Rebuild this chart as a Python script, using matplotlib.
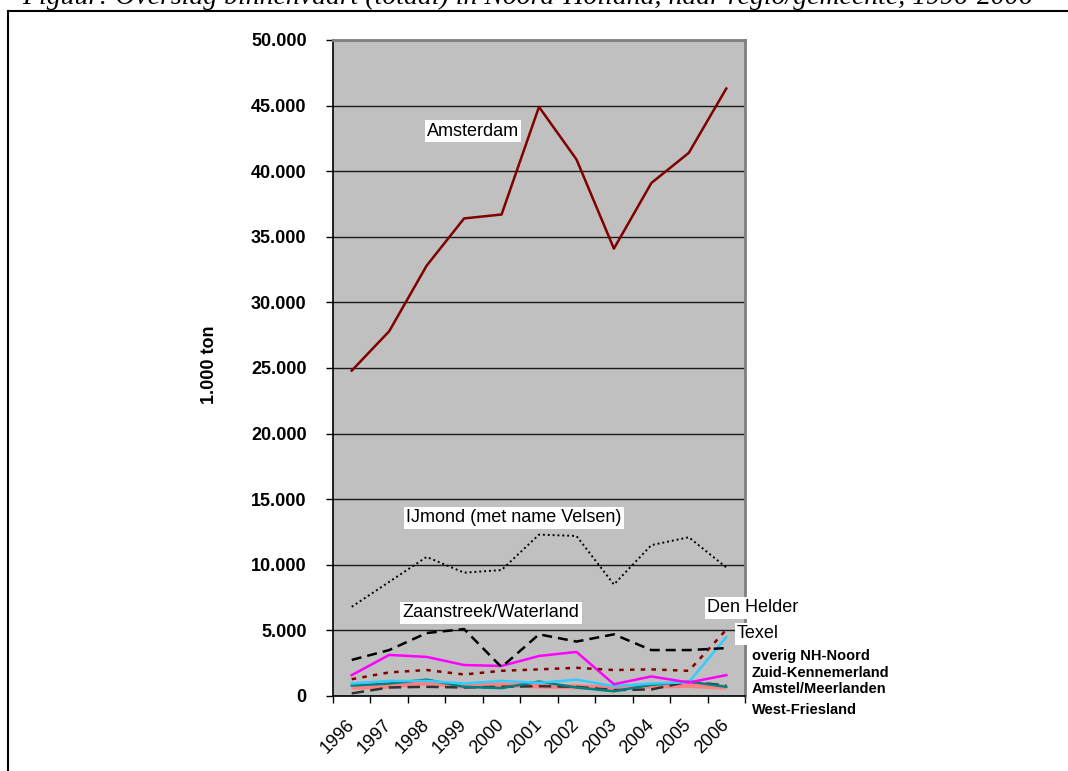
import matplotlib
matplotlib.use("Agg")
import matplotlib.pyplot as plt
from matplotlib.lines import Line2D
from matplotlib.ticker import FuncFormatter, FixedLocator

plt.rcParams["font.family"] = ["Liberation Sans", "DejaVu Sans"]

YEARS = ["1996", "1997", "1998", "1999", "2000", "2001", "2002", "2003", "2004", "2005", "2006"]

AMSTERDAM = [24800, 27800, 32800, 36400, 36700, 44900, 40900, 34100, 39100, 41400, 46300]
IJMOND = [6800, 8700, 10600, 9400, 9600, 12300, 12200, 8500, 11500, 12100, 9800]
ZAANSTREEK = [2750, 3500, 4800, 5100, 2200, 4700, 4150, 4700, 3500, 3500, 3650]
DEN_HELDER = [1280, 1800, 1980, 1640, 1920, 2030, 2150, 1980, 2030, 1920, 5050]
TEXEL = [950, 1150, 1150, 950, 1150, 1000, 1250, 750, 950, 1050, 4490]
OVERIG_NH_NOORD = [1590, 3130, 2980, 2360, 2290, 3050, 3360, 900, 1490, 1030, 1590]
ZUID_KENNEMERLAND = [800, 950, 1250, 700, 600, 1100, 650, 360, 850, 1100, 700]
AMSTEL_MEERLANDEN = [650, 750, 1000, 750, 850, 750, 700, 650, 750, 800, 650]
WEST_FRIESLAND = [200, 650, 700, 650, 700, 750, 700, 450, 500, 1100, 800]

TITLE = "Figuur: Overslag binnenvaart (totaal) in Noord-Holland, naar regio/gemeente, 1996-2006"


def thousands(v, pos):
    return f"{int(round(v)):,}".replace(",", ".")


def main():
    fig = plt.figure(figsize=(10.68, 7.71), dpi=100)
    ax = fig.add_axes([333 / 1068, 75 / 771, 412 / 1068, 656 / 771])
    ax.set_facecolor("#C0C0C0")

    x = list(range(len(YEARS)))

    # small regions first so they sit underneath
    ax.plot(x, AMSTEL_MEERLANDEN, color="#FF8080", lw=3.5, solid_capstyle="butt", zorder=3)
    ax.plot(x, WEST_FRIESLAND, color="#333333", lw=1.8, linestyle=(0, (5, 2.5)), zorder=3)
    ax.plot(x, ZUID_KENNEMERLAND, color="#008080", lw=1.8, zorder=4)
    ax.plot(x, TEXEL, color="#33CCFF", lw=1.8, zorder=5)
    ax.plot(x, OVERIG_NH_NOORD, color="#FF00FF", lw=1.8, zorder=5)
    ax.plot(x, DEN_HELDER, color="#800000", lw=1.8, linestyle=(0, (1.8, 2.5)), zorder=5)
    ax.plot(x, ZAANSTREEK, color="black", lw=1.8, linestyle=(0, (4, 2.4)), zorder=5)
    ax.plot(x, IJMOND, color="black", lw=1.4, linestyle=(0, (1, 1.5)), zorder=5)
    ax.plot(x, AMSTERDAM, color="#800000", lw=1.8, zorder=6)

    ax.set_xlim(-0.5, len(YEARS) - 0.5)
    ax.set_ylim(0, 50000)

    ax.yaxis.set_major_locator(FixedLocator(range(0, 50001, 5000)))
    ax.yaxis.set_major_formatter(FuncFormatter(thousands))
    ax.grid(axis="y", color="#1a1a1a", lw=1, zorder=1)
    ax.set_axisbelow(True)

    ax.set_xticks(x)
    ax.set_xticklabels(YEARS, rotation=45, ha="right", va="center", rotation_mode="anchor")
    ax.set_xticks([i - 0.5 for i in range(len(YEARS) + 1)], minor=True)
    ax.tick_params(axis="x", which="major", length=0, pad=19, labelsize=13)
    ax.tick_params(axis="x", which="minor", length=5, width=1, direction="out")
    ax.tick_params(axis="y", length=5, width=1, direction="out", labelsize=13, pad=14)
    for lbl in ax.get_yticklabels():
        lbl.set_fontweight("bold")

    for side in ("left", "bottom"):
        ax.spines[side].set_color("black")
        ax.spines[side].set_linewidth(1.2)
    for side in ("top", "right"):
        ax.spines[side].set_color("#808080")
        ax.spines[side].set_linewidth(2)

    ax.set_ylabel("1.000 ton", fontsize=13, fontweight="bold")
    ax.yaxis.set_label_coords(-0.279, 0.505)

    box = dict(facecolor="white", edgecolor="none", pad=1.5)
    ax.text(3.24, 43060, "Amsterdam", fontsize=13, ha="center", va="center", bbox=box, zorder=8)
    ax.text(4.33, 13570, "IJmond (met name Velsen)", fontsize=13, ha="center", va="center", bbox=box, zorder=8)
    ax.text(3.72, 6330, "Zaanstreek/Waterland", fontsize=13, ha="center", va="center", bbox=box, zorder=8)
    ax.text(10.71, 6710, "Den Helder", fontsize=13, ha="center", va="center", bbox=box, zorder=8)
    ax.text(10.85, 4730, "Texel", fontsize=13, ha="center", va="center", bbox=box, zorder=8)

    side_labels = ["overig NH-Noord", "Zuid-Kennemerland", "Amstel/Meerlanden", "West-Friesland"]
    side_y = [3050, 1750, 530, -1070]
    for label, yv in zip(side_labels, side_y):
        ax.text(10.69, yv, label, fontsize=10.5, fontweight="bold", ha="left", va="center")

    # document frame and cut-off caption above the chart
    fig.add_artist(Line2D([8 / 1068, 8 / 1068], [0, 1 - 11 / 771], color="black", lw=1.5,
                          transform=fig.transFigure))
    fig.add_artist(Line2D([8 / 1068, 1], [1 - 11 / 771, 1 - 11 / 771], color="black", lw=1.5,
                          transform=fig.transFigure))
    fig.text(22 / 1068, 1 - 4 / 771, TITLE, fontsize=20, style="italic", va="baseline", ha="left",
             family=["Liberation Serif", "DejaVu Serif"])

    fig.savefig("out.png", dpi=100)
    plt.close(fig)


if __name__ == "__main__":
    main()
